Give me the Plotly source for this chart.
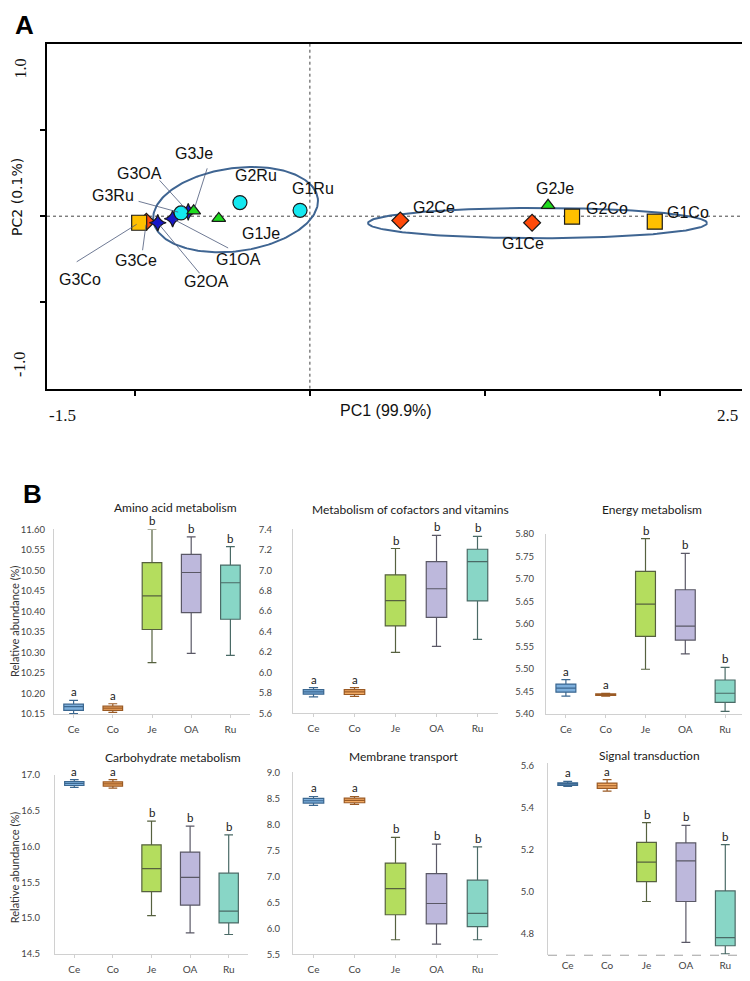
import numpy as np
import plotly.graph_objects as go

W, H = 750, 981          # reference window size
PAGE_MARGIN = 8          # default <body> margin of the written html page

# ---------------- Panel A data (PCA) ----------------
pca_labels = ["G1Co", "G2Co", "G3Co", "G1Ce", "G2Ce", "G3Ce", "G1Je", "G2Je", "G3Je",
              "G1OA", "G2OA", "G3OA", "G1Ru", "G2Ru", "G3Ru"]
pca_group = ["Co", "Co", "Co", "Ce", "Ce", "Ce", "Je", "Je", "Je",
             "OA", "OA", "OA", "Ru", "Ru", "Ru"]
pc1 = [1.968, 1.496, -0.974, 1.268, 0.516, -0.933, -0.520, 1.359, -0.663,
       -0.783, -0.868, -0.694, -0.056, -0.399, -0.735]
pc2 = [-0.032, -0.003, -0.038, -0.038, -0.025, -0.032, -0.013, 0.063, 0.031,
       -0.015, -0.038, 0.025, 0.034, 0.079, 0.019]
pc1_title = "PC1 (99.9%)"
pc2_title = "PC2 (0.1%)"

# ---------------- Panel B data (box statistics) ----------------
categories = ["Ce", "Co", "Je", "OA", "Ru"]
sig_letters = ["a", "a", "b", "b", "b"]

amino_acid = {"min": [10.151, 10.154, 10.275, 10.298, 10.293],
              "q1": [10.159, 10.159, 10.356, 10.397, 10.381],
              "median": [10.168, 10.1645, 10.438, 10.495, 10.470],
              "q3": [10.174, 10.169, 10.519, 10.539, 10.513],
              "max": [10.183, 10.175, 10.600, 10.582, 10.558]}
cofactors = {"min": [5.761, 5.765, 6.197, 6.255, 6.323],
             "q1": [5.787, 5.784, 6.455, 6.539, 6.700],
             "median": [5.810, 5.810, 6.703, 6.819, 7.084],
             "q3": [5.832, 5.832, 6.955, 7.084, 7.206],
             "max": [5.852, 5.852, 7.213, 7.342, 7.332]}
energy = {"min": [5.439, 5.439, 5.499, 5.533, 5.405],
          "q1": [5.448, 5.441, 5.572, 5.564, 5.425],
          "median": [5.457, 5.4426, 5.644, 5.595, 5.4455],
          "q3": [5.466, 5.444, 5.717, 5.676, 5.475],
          "max": [5.476, 5.4455, 5.790, 5.757, 5.503]}
carbohydrate = {"min": [16.821, 16.812, 15.033, 14.794, 14.771],
                "q1": [16.848, 16.839, 15.369, 15.180, 14.932],
                "median": [16.876, 16.871, 15.690, 15.566, 15.097],
                "q3": [16.903, 16.899, 16.021, 15.920, 15.626],
                "max": [16.931, 16.931, 16.352, 16.283, 16.159]}
membrane = {"min": [8.364, 8.383, 5.779, 5.696, 5.779],
            "q1": [8.409, 8.415, 6.260, 6.083, 6.032],
            "median": [8.453, 8.459, 6.761, 6.476, 6.286],
            "q3": [8.497, 8.504, 7.255, 7.053, 6.926],
            "max": [8.535, 8.535, 7.750, 7.617, 7.566]}
signal = {"min": [5.501, 5.479, 4.955, 4.761, 4.707],
          "q1": [5.506, 5.492, 5.049, 4.955, 4.745],
          "median": [5.514, 5.504, 5.142, 5.148, 4.784],
          "q3": [5.518, 5.517, 5.235, 5.233, 5.005],
          "max": [5.525, 5.533, 5.329, 5.316, 5.225]}

titles = ["Amino acid metabolism", "Metabolism of cofactors and vitamins", "Energy metabolism",
          "Carbohydrate metabolism", "Membrane transport", "Signal transduction"]

ticks_amino = [10.15, 10.20, 10.25, 10.30, 10.35, 10.40, 10.45, 10.50, 10.55, 10.60]
ticktext_amino = ["10.15", "10.20", "10.25", "10.30", "10.35", "10.40", "10.45", "10.50", "10.55", "11.60"]
ticks_cof = [5.6, 5.8, 6.0, 6.2, 6.4, 6.6, 6.8, 7.0, 7.2, 7.4]
ticktext_cof = ["5.6", "5.8", "6.0", "6.2", "6.4", "6.6", "6.8", "7.0", "7.2", "7.4"]
ticks_energy = [5.40, 5.45, 5.50, 5.55, 5.60, 5.65, 5.70, 5.75, 5.80]
ticktext_energy = ["5.40", "5.45", "5.50", "5.55", "5.60", "5.65", "5.70", "5.75", "5.80"]
ticks_carb = [14.5, 15.0, 15.5, 16.0, 16.5, 17.0]
ticktext_carb = ["14.5", "15.0", "15.5", "16.0", "16.5", "17.0"]
ticks_mem = [5.5, 6.0, 6.5, 7.0, 7.5, 8.0, 8.5, 9.0]
ticktext_mem = ["5.5", "6.0", "6.5", "7.0", "7.5", "8.0", "8.5", "9.0"]
ticks_sig = [4.8, 5.0, 5.2, 5.4, 5.6]
ticktext_sig = ["4.8", "5.0", "5.2", "5.4", "5.6"]

# ---------------- styles / layout geometry ----------------
FW, FH = W - PAGE_MARGIN, H - PAGE_MARGIN


def px(x):
    return (x - PAGE_MARGIN) / FW


def py(y):
    return 1 - (y - PAGE_MARGIN) / FH


def paper_text(x, y, text, size, family, color="#111111", angle=0, pad=1):
    return dict(x=px(x), y=py(y), xref="paper", yref="paper", text=text, showarrow=False,
                xanchor="center", yanchor="middle", textangle=angle, borderpad=pad,
                font=dict(family=family, size=size, color=color))


A_left, A_right, A_top, A_bottom = 47, 748, 38, 387
A_xrange = [-1.5, 2.5]
A_yrange = [-1.0, 1.0]
sx = (A_right - A_left) / (A_xrange[1] - A_xrange[0])
sy = (A_bottom - A_top) / (A_yrange[1] - A_yrange[0])

marker_style = {
    "Ce": dict(symbol="diamond", size=13, color="#ff4a0a"),
    "OA": dict(symbol="star-diamond", size=12, color="#1818c8"),
    "Ru": dict(symbol="circle", size=14, color="#14e8f0"),
    "Je": dict(symbol="triangle-up", size=12, color="#1edc1e"),
    "Co": dict(symbol="square", size=15, color="#ffc000"),
}
draw_order = ["Ce", "OA", "Ru", "Je", "Co"]

# label offsets (pixels from point: dx right, dy down)
label_offset = {
    "G3Co": (-59, 57), "G3Ce": (-10, 39), "G2OA": (49, 59), "G1OA": (66, 41),
    "G3Ru": (-68, -17), "G3OA": (-49, -38), "G3Je": (0, -57), "G1Je": (42, 15),
    "G2Ru": (16, -27), "G1Ru": (13, -22), "G2Ce": (34, -13), "G1Ce": (-9, 21),
    "G2Je": (7, -17), "G2Co": (35, -8), "G1Co": (33, -9),
}
# leader line start offsets (pixels from point)
leader_offset = {
    "G3Je": (14, -44), "G3OA": (-30, -33), "G3Ru": (-44, -12), "G1OA": (57, 30),
    "G2OA": (43, 52), "G3Ce": (-4, 30), "G3Co": (-64, 40),
}

# ellipses: center (data), semi-axes (pixels), angle (deg)
ellipses = [dict(cx=-0.424, cy=0.038, a=83, b=42, ang=8),
            dict(cx=1.299, cy=-0.040, a=169.5, b=15.3, ang=0)]

fig = go.Figure()

for e in ellipses:
    t = np.linspace(0, 2 * np.pi, 200)
    th = np.radians(e["ang"])
    dx = e["a"] * np.cos(t) * np.cos(th) - e["b"] * np.sin(t) * np.sin(th)
    dy = e["a"] * np.cos(t) * np.sin(th) + e["b"] * np.sin(t) * np.cos(th)
    fig.add_trace(go.Scatter(x=e["cx"] + dx / sx, y=e["cy"] + dy / sy, mode="lines",
                             line=dict(color="#3f6592", width=2), hoverinfo="skip",
                             xaxis="x", yaxis="y"))

for g in draw_order:
    idx = [i for i, gg in enumerate(pca_group) if gg == g]
    st = marker_style[g]
    fig.add_trace(go.Scatter(
        x=[pc1[i] for i in idx], y=[pc2[i] for i in idx], mode="markers",
        marker=dict(symbol=st["symbol"], size=st["size"], color=st["color"],
                    line=dict(color="#1a1a1a", width=1.2)),
        xaxis="x", yaxis="y", name=g))

annotations = []
shapes = []

# dotted zero lines (behind the markers)
shapes.append(dict(type="line", xref="x", yref="y", x0=0, x1=0, y0=A_yrange[0], y1=A_yrange[1],
                   layer="below", line=dict(color="#444444", width=1, dash="dot")))
shapes.append(dict(type="line", xref="x", yref="y", x0=A_xrange[0], x1=A_xrange[1], y0=0, y1=0,
                   layer="below", line=dict(color="#444444", width=1, dash="dot")))

for i, lab in enumerate(pca_labels):
    ox, oy = label_offset[lab]
    annotations.append(dict(x=pc1[i], y=pc2[i], xref="x", yref="y", text=lab, showarrow=False,
                            xanchor="center", yanchor="middle", xshift=ox, yshift=-oy,
                            font=dict(family="Liberation Sans, Arial", size=16, color="#111111")))
    if lab in leader_offset:
        lx, ly = leader_offset[lab]
        annotations.append(dict(x=pc1[i], y=pc2[i], xref="x", yref="y", text="", showarrow=True,
                                arrowhead=0, arrowwidth=0.8, arrowcolor="#4a5878",
                                ax=lx, ay=ly, axref="pixel", ayref="pixel", standoff=3))

serif = "Liberation Serif, Times New Roman"
annotations += [
    paper_text(24, 19, "<b>A</b>", 26, "Liberation Sans, Arial", "black"),
    paper_text(33, 493, "<b>B</b>", 26, "Liberation Sans, Arial", "black"),
    paper_text(20, 63, "1.0", 16, serif, angle=-90),
    paper_text(20, 363, "-1.0", 16, serif, angle=-90),
    paper_text(62, 414, "-1.5", 17, serif),
    paper_text(727, 414, "2.5", 17, serif),
    paper_text(386, 409, pc1_title, 16, "Liberation Sans Narrow, Liberation Sans, Arial"),
    paper_text(17, 193, pc2_title, 14, "DejaVu Sans, Liberation Sans", angle=-90),
]

layout_axes = {}
layout_axes["xaxis"] = dict(domain=[px(A_left), px(A_right)], range=A_xrange, anchor="y",
                            tickvals=[-1, 0, 1, 2], ticks="outside", ticklen=5, tickwidth=2,
                            tickcolor="black", showticklabels=False, showline=True, linewidth=2,
                            linecolor="black", mirror=True, showgrid=False, zeroline=False)
layout_axes["yaxis"] = dict(domain=[py(A_bottom), py(A_top)], range=A_yrange, anchor="x",
                            tickvals=[-0.5, 0, 0.5], ticks="outside", ticklen=5, tickwidth=2,
                            tickcolor="black", showticklabels=False, showline=True, linewidth=2,
                            linecolor="black", mirror=True, showgrid=False, zeroline=False)

# ---------------- Panel B ----------------
box_fill = {"Ce": "#7dafdc", "Co": "#f3ab64", "Je": "#b4dd5e", "OA": "#bdb8dc", "Ru": "#88d6c6"}
box_line = {"Ce": "#3b6790", "Co": "#9a5a24", "Je": "#56613f", "OA": "#5a5866", "Ru": "#4a6a66"}

panels = [amino_acid, cofactors, energy, carbohydrate, membrane, signal]
panel_ticks = [(ticks_amino, ticktext_amino), (ticks_cof, ticktext_cof), (ticks_energy, ticktext_energy),
               (ticks_carb, ticktext_carb), (ticks_mem, ticktext_mem), (ticks_sig, ticktext_sig)]
panel_ranges = [[10.15, 10.60], [5.6, 7.4], [5.40, 5.80], [14.5, 17.0], [5.5, 9.0], [4.70, 5.61]]
# pixel geometry: (left, right, top, bottom)
panel_geom = [(54, 250, 529.3, 716), (293, 498, 529.3, 715.3), (546, 745, 534, 715.7),
              (55, 248, 777.3, 958.7), (293, 498, 775, 959), (548, 745, 766, 960)]
title_pos = [(175, 507.5), (410, 509), (652, 509), (173, 760), (404, 759), (649, 758)]
standoffs = [6, 18, 9, 12, 10, 11]

bfont = "Lato, Open Sans, sans-serif"

for k, (pdata, (tv, tt), rng, geom, tpos) in enumerate(zip(panels, panel_ticks, panel_ranges,
                                                         panel_geom, title_pos)):
    n = k + 2
    xa, ya = f"x{n}", f"y{n}"
    l, r, t, b = geom
    for j, c in enumerate(categories):
        fig.add_trace(go.Box(
            x=[c], q1=[pdata["q1"][j]], median=[pdata["median"][j]], q3=[pdata["q3"][j]],
            lowerfence=[pdata["min"][j]], upperfence=[pdata["max"][j]],
            fillcolor=box_fill[c], line=dict(color=box_line[c], width=1.2),
            width=0.5, whiskerwidth=0.45, boxpoints=False, xaxis=xa, yaxis=ya, name=c,
            hoverinfo="skip"))
        annotations.append(dict(x=c, y=pdata["max"][j], xref=xa, yref=ya, text=sig_letters[j],
                                showarrow=False, xanchor="center", yanchor="bottom", yshift=1,
                                borderpad=0,
                                font=dict(family=bfont, size=11.5, color="#1a1a1a")))
    last_dashed = (k == 5)
    layout_axes[f"xaxis{n}"] = dict(domain=[px(l), px(r)], anchor=ya, type="category",
                                    categoryorder="array", categoryarray=categories,
                                    range=[-0.5, len(categories) - 0.5],
                                    showline=not last_dashed, linecolor="#d0d0d0", linewidth=1,
                                    ticks="" if last_dashed else "outside", ticklen=3,
                                    tickcolor="#d0d0d0", showgrid=False, zeroline=False,
                                    ticklabelstandoff=3,
                                    tickfont=dict(family=bfont, size=10, color="#444444"))
    layout_axes[f"yaxis{n}"] = dict(domain=[py(b), py(t)], anchor=xa, range=rng,
                                    tickvals=tv, ticktext=tt, showline=True, linecolor="#d0d0d0",
                                    linewidth=1, ticks="", showgrid=False, zeroline=False,
                                    ticklabelstandoff=standoffs[k],
                                    tickfont=dict(family=bfont, size=9.5, color="#444444"))
    annotations.append(paper_text(tpos[0], tpos[1], titles[k], 12, bfont, "#1a1a1a", pad=0))
    if last_dashed:
        shapes.append(dict(type="line", xref="paper", yref="paper", x0=px(l), x1=px(r),
                           y0=py(b), y1=py(b), line=dict(color="#a0a0a0", width=1, dash="dash")))

for yc in (623, 872):
    annotations.append(paper_text(14, yc, "Relative abundance (%)", 11, bfont, "#333333", angle=-90))

fig.update_layout(width=FW, height=FH, margin=dict(l=0, r=0, t=0, b=0), showlegend=False,
                  plot_bgcolor="white", paper_bgcolor="white", boxmode="overlay",
                  annotations=annotations, shapes=shapes, **layout_axes)

fig.write_html("out.html")
